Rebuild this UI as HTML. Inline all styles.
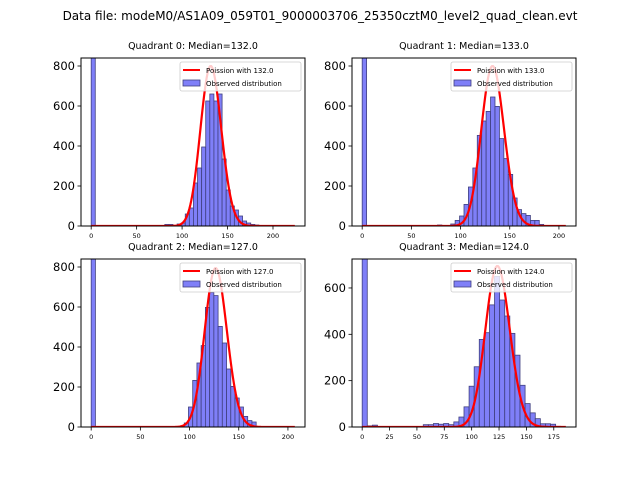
<!DOCTYPE html>
<html><head><meta charset="utf-8"><style>
body{margin:0;background:#fff;}
svg{display:block;font-family:"DejaVu Sans","Liberation Sans",sans-serif;}
</style></head><body>
<svg id="fig" width="640" height="480">
<text x="320" y="20" text-anchor="middle" font-size="12">Data file: modeM0/AS1A09_059T01_9000003706_25350cztM0_level2_quad_clean.evt</text>
</svg>
<script>
const medians = [132.0, 133.0, 127.0, 124.0];
const binWidths = [4.5, 4.5, 4.3, 4.65];
const dataMax = [224, 207, 207, 186];
const zeroBinCounts = [3000, 3000, 3000, 3000];
const startIdx0 = [16, 17, 16, 1];
const counts0 = [3,3,8,8,3,10,15,60,90,215,290,395,625,660,625,660,335,180,100,80,50,25,15,8,5,3];
const counts1 = [5,0,0,10,28,50,108,195,290,453,525,573,645,598,437,337,258,140,82,62,53,28,28,8,3];
const counts2 = [3,3,0,0,0,3,20,100,233,320,407,598,673,657,503,420,290,203,145,100,53,32,25];
const counts3 = [5,8,0,0,0,0,0,0,0,0,0,10,10,15,12,15,10,22,43,87,176,260,378,407,527,650,548,479,404,310,180,101,61,36,14,14,12,3];
const allCounts = [counts0, counts1, counts2, counts3];
const totals = [5120, 5140, 5220, 4170];
const yMax = [840, 840, 840, 725];
const yTicks = [[0,200,400,600,800],[0,200,400,600,800],[0,200,400,600,800],[0,200,400,600]];
const xTicks = [[0,50,100,150,200],[0,50,100,150,200],[0,50,100,150,200],[0,25,50,75,100,125,150,175]];

const NS = "http://www.w3.org/2000/svg";
const fig = document.getElementById('fig');
function mk(tag, attrs, parent){const e=document.createElementNS(NS,tag);for(const k in attrs)e.setAttribute(k,attrs[k]);(parent||fig).appendChild(e);return e;}
function lgamma(z){
  let s=0; while(z<7){s-=Math.log(z);z+=1;}
  return s+(z-0.5)*Math.log(z)-z+0.5*Math.log(2*Math.PI)+1/(12*z)-1/(360*z*z*z);
}
const boxes = [[81,58],[352,58],[81,259],[352,259]];
const W=224, H=168;
for(let q=0;q<4;q++){
  const [L,T]=boxes[q];
  const m = dataMax[q]*0.05;
  const x0=-m, x1=dataMax[q]+m;
  const sx=v=>L+(v-x0)/(x1-x0)*W;
  const sy=v=>T+H-v/yMax[q]*H;
  const g=mk('g',{});
  
  
  const cid='clip'+q;
  const cp=mk('clipPath',{id:cid},g); mk('rect',{x:L,y:T,width:W,height:H},cp);
  const t=mk('text',{x:L+W/2,y:T-9,'text-anchor':'middle','font-size':'9.5'},g);
  t.textContent='Quadrant '+q+': Median='+medians[q].toFixed(1);
  
  
  const pg=mk('g',{'clip-path':'url(#'+cid+')'},g);
  const w=binWidths[q];
  const bars=[[0,zeroBinCounts[q]]];
  allCounts[q].forEach((c,i)=>{if(c>0)bars.push([startIdx0[q]+i,c]);});
  bars.forEach(([i,c])=>{
    const r=mk('rect',{x:sx(i*w),y:sy(c),width:sx(w)-sx(0),height:sy(0)-sy(c),fill:'#7f7ff8',stroke:'#404080','stroke-width':'0.8'},pg);
    
    
  });
  let d='';
  const lam=medians[q];
  for(let k=0;k<=Math.floor(dataMax[q]);k++){
    const p=Math.exp(k*Math.log(lam)-lam-lgamma(k+1));
    const v=totals[q]*w*p;
    d+=(k?'L':'M')+sx(k).toFixed(2)+','+sy(v).toFixed(2);
  }
  const cu=mk('path',{d:d,fill:'none',stroke:'#ff0000','stroke-width':'2.2'},pg);
  
  
  mk('rect',{x:L,y:T,width:W,height:H,fill:'none',stroke:'#000','stroke-width':'1'},g);
  yTicks[q].forEach(v=>{
    mk('line',{x1:L-3.5,x2:L,y1:sy(v),y2:sy(v),stroke:'#000','stroke-width':'0.8'},g);
    const tt=mk('text',{x:L-6,y:sy(v)+4,'text-anchor':'end','font-size':'11.5'},g);
    tt.textContent=v;
    
    
  });
  xTicks[q].forEach(v=>{
    mk('line',{x1:sx(v),x2:sx(v),y1:T+H,y2:T+H+3.5,stroke:'#000','stroke-width':'0.8'},g);
    const tt=mk('text',{x:sx(v),y:T+H+12,'text-anchor':'middle','font-size':'6.5'},g);
    tt.textContent=v;
    
    
  });
  const lg=mk('g',{},g);
  
  
  const lx=L+W-125, ly=T+4;
  mk('rect',{x:lx,y:ly,width:121,height:29,fill:'#fff','fill-opacity':'0.8',stroke:'#ccc','stroke-width':'0.8',rx:2},lg);
  mk('line',{x1:lx+3,x2:lx+20,y1:ly+8,y2:ly+8,stroke:'#f00','stroke-width':'2'},lg);
  const l1=mk('text',{x:lx+26,y:ly+11,'font-size':'7'},lg); l1.textContent='Poission with '+medians[q].toFixed(1);
  mk('rect',{x:lx+3,y:ly+18,width:17,height:6,fill:'#7f7ff8',stroke:'#404080','stroke-width':'0.8'},lg);
  const l2=mk('text',{x:lx+26,y:ly+24,'font-size':'7'},lg); l2.textContent='Observed distribution';
}
</script>
</body></html>
